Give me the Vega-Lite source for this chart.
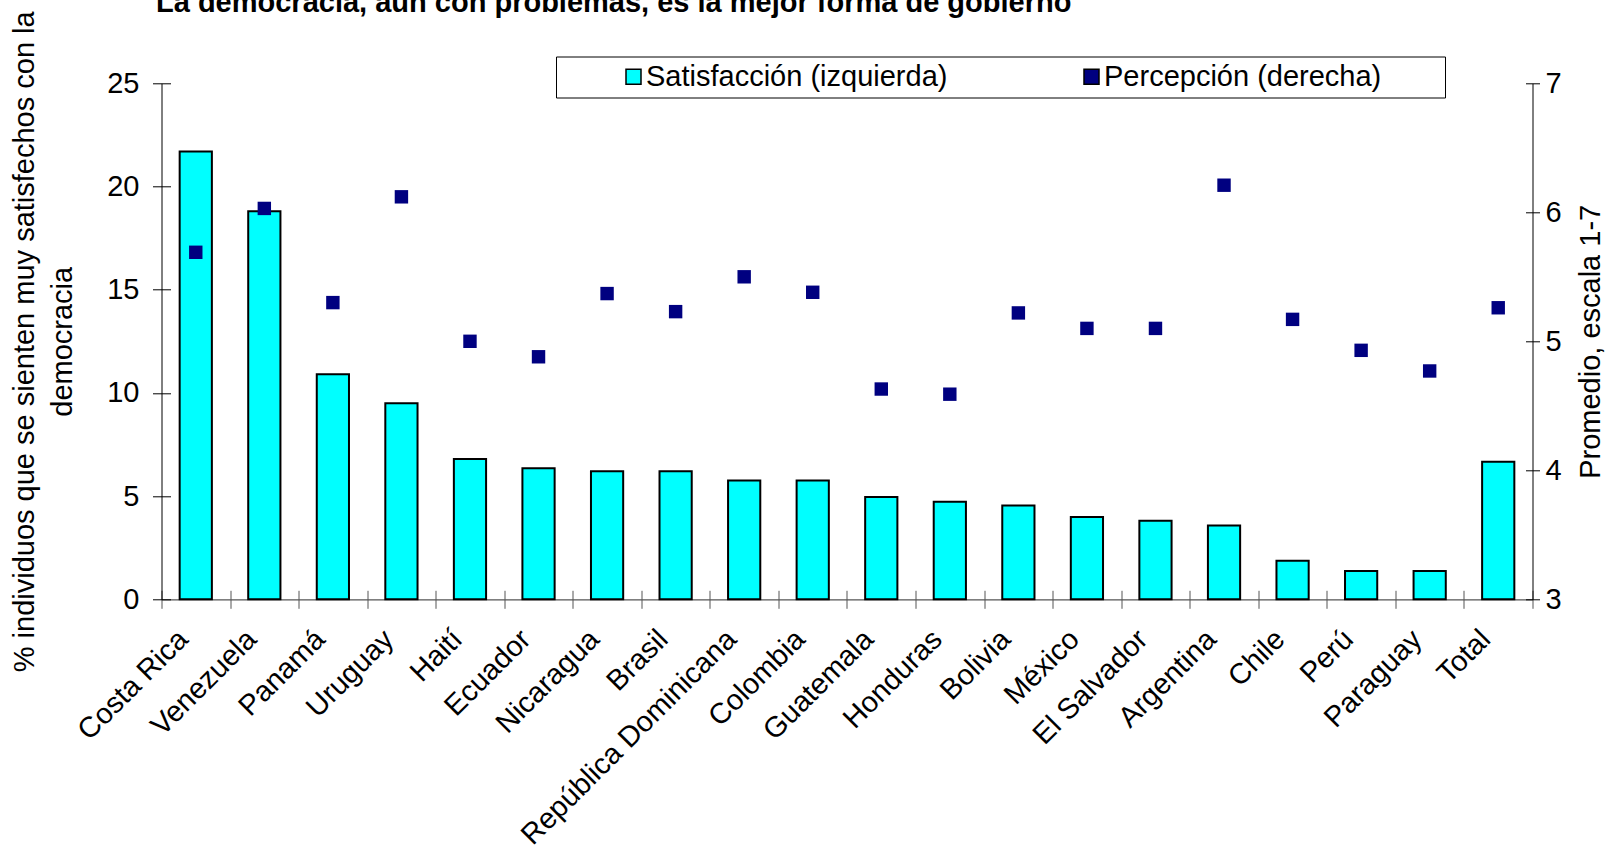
{
  "$schema": "https://vega.github.io/schema/vega-lite/v6.json",
  "width": 1371,
  "height": 516,
  "autosize": {"type": "none"},
  "padding": {"left": 161.5, "top": 83.3, "right": 75.5, "bottom": 249.7},
  "background": "white",
  "config": {
    "font": "Liberation Sans",
    "view": {"stroke": null},
    "axis": {"labelColor": "black", "titleColor": "black", "labelFontSize": 29, "titleFontSize": 29, "titleFontWeight": "normal", "grid": false, "labelFont": "Liberation Sans", "titleFont": "Liberation Sans"}
  },
  "title": {
    "text": "La democracia, aun con problemas, es la mejor forma de gobierno",
    "anchor": "start",
    "frame": "group",
    "fontSize": 29,
    "fontWeight": "bold",
    "font": "Liberation Sans",
    "color": "black",
    "baseline": "alphabetic",
    "offset": 0,
    "dx": -5.5,
    "dy": 30
  },
  "data": {
    "values": [
      {"pais": "Costa Rica", "sat": 21.7, "per": 5.69},
      {"pais": "Venezuela", "sat": 18.8, "per": 6.03},
      {"pais": "Panamá", "sat": 10.9, "per": 5.30},
      {"pais": "Uruguay", "sat": 9.5, "per": 6.12},
      {"pais": "Haití", "sat": 6.8, "per": 5.00},
      {"pais": "Ecuador", "sat": 6.35, "per": 4.88},
      {"pais": "Nicaragua", "sat": 6.2, "per": 5.37},
      {"pais": "Brasil", "sat": 6.2, "per": 5.23},
      {"pais": "República Dominicana", "sat": 5.75, "per": 5.50},
      {"pais": "Colombia", "sat": 5.75, "per": 5.38},
      {"pais": "Guatemala", "sat": 4.96, "per": 4.63},
      {"pais": "Honduras", "sat": 4.73, "per": 4.59},
      {"pais": "Bolivia", "sat": 4.54, "per": 5.22},
      {"pais": "México", "sat": 3.99, "per": 5.10},
      {"pais": "El Salvador", "sat": 3.8, "per": 5.10},
      {"pais": "Argentina", "sat": 3.57, "per": 6.21},
      {"pais": "Chile", "sat": 1.87, "per": 5.17},
      {"pais": "Perú", "sat": 1.37, "per": 4.93},
      {"pais": "Paraguay", "sat": 1.37, "per": 4.77},
      {"pais": "Total", "sat": 6.67, "per": 5.26}
    ]
  },
  "layer": [
    {
      "mark": {"type": "bar", "width": {"band": 0.47}, "stroke": "black", "strokeWidth": 2},
      "encoding": {
        "x": {
          "field": "pais", "type": "nominal", "sort": null,
          "scale": {"paddingInner": 0, "paddingOuter": 0},
          "axis": {"orient": "bottom", "title": null, "labelAngle": -45, "labelAlign": "right", "labelBaseline": "middle", "labelPadding": 26, "labelOffset": -13, "labelLimit": 500, "tickBand": "extent", "tickSize": 9, "tickColor": "#555", "domainColor": "#555", "domainWidth": 1.2, "labelFontSize": 29}
        },
        "y": {
          "field": "sat", "type": "quantitative",
          "scale": {"domain": [0, 25], "nice": false},
          "axis": {"orient": "left", "values": [0, 5, 10, 15, 20, 25], "tickSize": 9, "labelPadding": 13.5, "tickColor": "black", "domainColor": "black", "title": ["% individuos que se sienten muy satisfechos con la", "democracia"], "titleLineHeight": 38, "titlePadding": 29}
        },
        "color": {
          "datum": "Satisfacción (izquierda)",
          "scale": {"domain": ["Satisfacción (izquierda)", "Percepción (derecha)"], "range": ["#00FFFF", "#000080"]},
          "legend": {
            "orient": "none", "legendX": 394.5, "legendY": -26.8, "direction": "horizontal", "columns": 2,
            "title": " ", "titleOrient": "right", "titlePadding": 58, "titleFontSize": 29,
            "strokeColor": "black", "fillColor": "white", "padding": 5.5,
            "symbolType": "square", "symbolSize": 225, "symbolOffset": 57.5, "labelOffset": -2,
            "columnPadding": 72, "labelFontSize": 29, "labelColor": "black", "labelFont": "Liberation Sans", "labelLimit": 0,
            "encode": {"symbols": {"update": {
              "stroke": {"signal": "datum.value === 'Satisfacción (izquierda)' ? 'black' : '#000080'"},
              "strokeWidth": {"value": 1.5},
              "size": {"signal": "datum.value === 'Satisfacción (izquierda)' ? 225 : 170"}
            }}}
          }
        }
      }
    },
    {
      "mark": {"type": "point", "shape": "square", "filled": true, "size": 180, "opacity": 1},
      "encoding": {
        "x": {"field": "pais", "type": "nominal", "sort": null, "axis": null},
        "y": {
          "field": "per", "type": "quantitative",
          "scale": {"domain": [3, 7], "nice": false},
          "axis": {"orient": "right", "values": [3, 4, 5, 6, 7], "tickSize": 7, "labelPadding": 5.5, "tickColor": "black", "domainColor": "black", "title": "Promedio, escala 1-7", "titleAngle": 270, "titleBaseline": "top", "titlePadding": 15}
        },
        "color": {"datum": "Percepción (derecha)"}
      }
    },
    {
      "mark": {"type": "bar", "opacity": 0},
      "encoding": {
        "x": {"field": "pais", "type": "nominal", "sort": null, "axis": {"orient": "bottom", "title": null, "labels": false, "domain": false, "tickBand": "extent", "tickSize": -9, "tickColor": "#555"}},
        "y": {"field": "sat", "type": "quantitative", "scale": {"domain": [0, 25], "nice": false}, "axis": {"orient": "left", "title": null, "labels": false, "domain": false, "values": [0, 5, 10, 15, 20, 25], "tickSize": -9, "tickColor": "black"}}
      }
    },
    {
      "mark": {"type": "point", "opacity": 0},
      "encoding": {
        "x": {"field": "pais", "type": "nominal", "sort": null, "axis": null},
        "y": {"field": "per", "type": "quantitative", "scale": {"domain": [3, 7], "nice": false}, "axis": {"orient": "right", "title": null, "labels": false, "domain": false, "values": [3, 4, 5, 6, 7], "tickSize": -7, "tickColor": "black"}}
      }
    }
  ],
  "resolve": {"scale": {"y": "independent"}, "axis": {"x": "independent", "y": "independent"}}
}
